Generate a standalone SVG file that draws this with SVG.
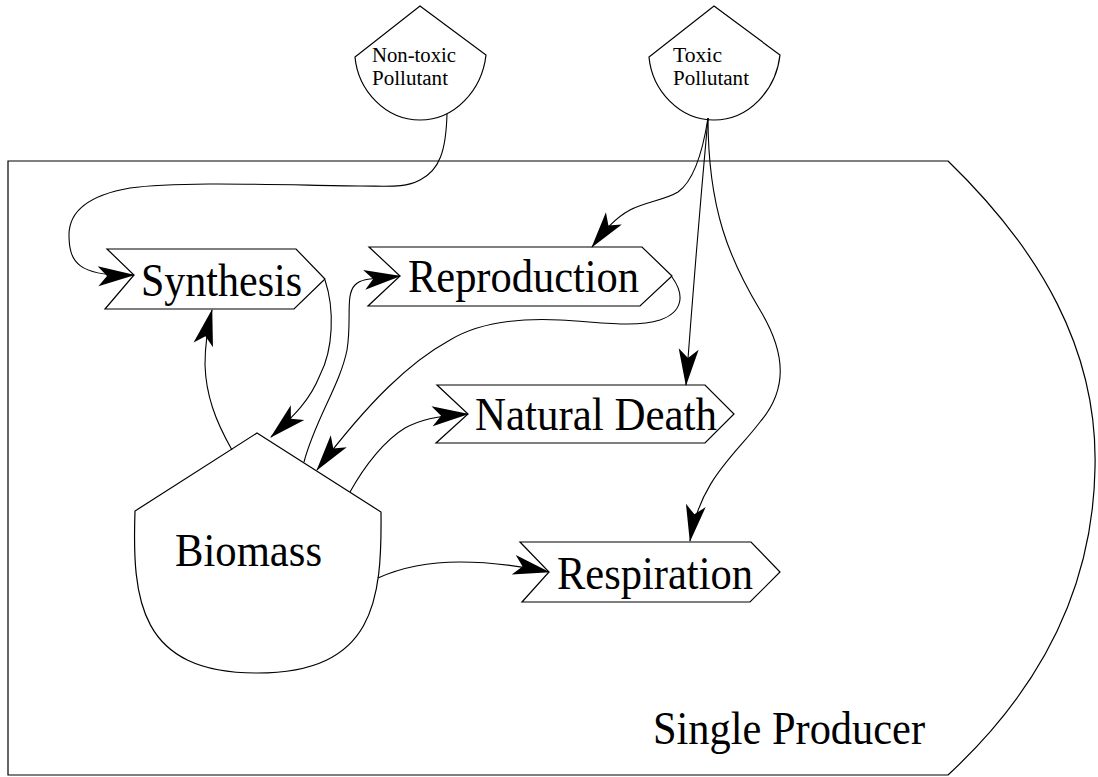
<svg xmlns="http://www.w3.org/2000/svg" width="1098" height="777" viewBox="0 0 1098 777">
<style>
.sh{fill:#fff;stroke:#000;stroke-width:1.2}
.ln{fill:none;stroke:#000;stroke-width:1.1}
.big{font-family:"Liberation Serif","Times New Roman",serif;font-size:47px;fill:#000}
.sm{font-family:"Liberation Serif","Times New Roman",serif;font-size:20px;fill:#000}
</style>
<defs>
<marker id="ah" markerUnits="userSpaceOnUse" markerWidth="40" markerHeight="24" refX="36" refY="10" orient="auto" overflow="visible">
<path d="M0,0 L37,10 L0,20 L9,10 Z" fill="#000"/>
</marker>
</defs>
<rect width="1098" height="777" fill="#fff"/>
<g id="single-producer">
<path class="sh" d="M8,161 H948 C1040,250 1098,350 1095,468 C1093,590 1040,690 948,775 H8 Z"/>
<text class="big" x="653" y="744" textLength="272" lengthAdjust="spacingAndGlyphs">Single Producer</text>
</g>
<g id="non-toxic-pollutant">
<path class="sh" d="M420,6 L486,55 C482,90 455,120 420,120 C385,120 358,90 355,57 Z"/>
<text class="sm" x="372" y="62" textLength="84" lengthAdjust="spacingAndGlyphs">Non-toxic</text>
<text class="sm" x="372" y="85" textLength="76" lengthAdjust="spacingAndGlyphs">Pollutant</text>
</g>
<g id="toxic-pollutant">
<path class="sh" d="M714,6 L780,55 C776,90 749,120 714,120 C679,120 652,90 649,57 Z"/>
<text class="sm" x="673" y="62" textLength="49" lengthAdjust="spacingAndGlyphs">Toxic</text>
<text class="sm" x="673" y="85" textLength="76" lengthAdjust="spacingAndGlyphs">Pollutant</text>
</g>
<g id="synthesis">
<path class="sh" d="M107,249 L296,249 L325,279 L294,309 L105,309 L134,275 Z"/>
<text class="big" x="141" y="296" textLength="161" lengthAdjust="spacingAndGlyphs">Synthesis</text>
</g>
<g id="reproduction">
<path class="sh" d="M369,247 L642,247 L672,276 L640,306 L368,306 L400,276 Z"/>
<text class="big" x="408" y="292" textLength="231" lengthAdjust="spacingAndGlyphs">Reproduction</text>
</g>
<g id="natural-death">
<path class="sh" d="M437,385 L705,385 L734,414 L705,443 L436,443 L468,414 Z"/>
<text class="big" x="475" y="430" textLength="242" lengthAdjust="spacingAndGlyphs">Natural Death</text>
</g>
<g id="respiration">
<path class="sh" d="M520,542 L751,542 L780,572 L750,602 L522,602 L549,572 Z"/>
<text class="big" x="557" y="589" textLength="196" lengthAdjust="spacingAndGlyphs">Respiration</text>
</g>
<g id="biomass">
<path class="sh" d="M257,433 L381,512 C382,600 375,673 257,673 C139,673 132,600 135,511 Z"/>
<text class="big" x="175" y="566" textLength="147" lengthAdjust="spacingAndGlyphs">Biomass</text>
</g>
<g id="connectors">
<path class="ln" marker-end="url(#ah)" d="M447,114 C446,150 440,170 420,180 C405,188 390,186 360,186 C280,185 180,181 130,188 C90,195 69,210 69,235 C69,262 78,277 134,275"/>
<path class="ln" marker-end="url(#ah)" d="M708,118 C703,150 695,180 678,192 C665,200 645,202 630,210 C615,218 605,230 592,247"/>
<path class="ln" marker-end="url(#ah)" d="M708,118 Q696,250 686,385"/>
<path class="ln" marker-end="url(#ah)" d="M708,118 C708,210 730,260 760,310 C787,355 787,390 760,422 C735,455 700,480 690,541"/>
<path class="ln" marker-end="url(#ah)" d="M325,280 C335,310 333,350 320,375 C310,400 295,415 271,437"/>
<path class="ln" marker-end="url(#ah)" d="M232,450 C215,420 206,395 205,365 C205,345 207,330 212,310"/>
<path class="ln" marker-end="url(#ah)" d="M304,462 C315,420 340,385 347,350 C352,320 345,295 355,285 C362,278 372,279 400,276"/>
<path class="ln" marker-end="url(#ah)" d="M672,277 C685,295 683,312 660,320 C635,328 600,322 560,320 C520,318 480,322 450,340 C410,362 370,400 317,470"/>
<path class="ln" marker-end="url(#ah)" d="M350,492 C365,465 385,440 405,428 C420,420 435,416 468,414"/>
<path class="ln" marker-end="url(#ah)" d="M378,578 C400,568 430,562 460,562 C490,562 520,566 549,572"/>
</g>
</svg>
